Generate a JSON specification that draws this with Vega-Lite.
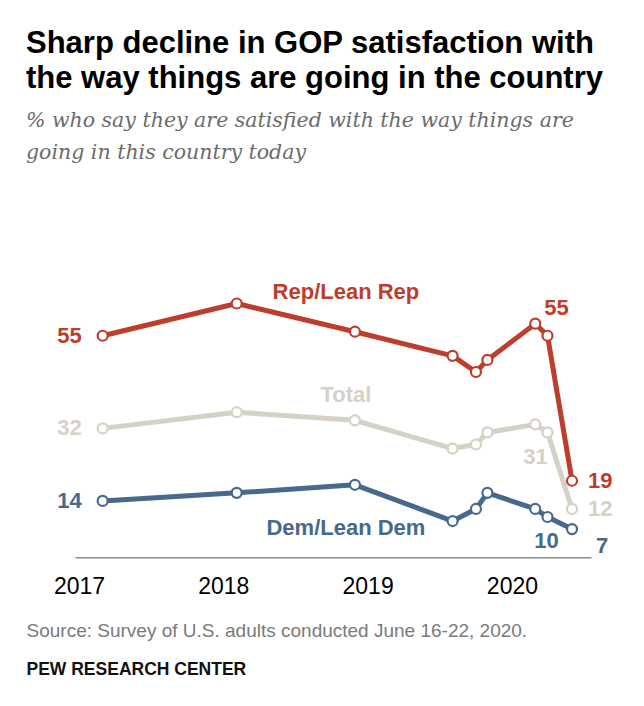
{
  "$schema": "https://vega.github.io/schema/vega-lite/v6.json",
  "width": 516,
  "height": 282,
  "autosize": {"type": "none"},
  "padding": {"left": 75, "top": 275.3, "right": 53, "bottom": 148.7},
  "background": "white",
  "config": {
    "view": {"stroke": null},
    "font": "Liberation Sans",
    "text": {"font": "Liberation Sans", "fontWeight": "bold", "fontSize": 22, "baseline": "middle"}
  },
  "title": {
    "text": ["Sharp decline in GOP satisfaction with", "the way things are going in the country"],
    "subtitle": ["% who say they are satisfied with the way things are", "going in this country today"],
    "anchor": "start",
    "frame": "group",
    "dx": -49,
    "offset": 111,
    "font": "Liberation Sans",
    "fontSize": 31,
    "fontWeight": "bold",
    "color": "#000000",
    "lineHeight": 35,
    "subtitleFont": "DejaVu Serif",
    "subtitleFontStyle": "italic",
    "subtitleFontSize": 20.5,
    "subtitleColor": "#6b6b6b",
    "subtitleLineHeight": 31.7,
    "subtitlePadding": 16
  },
  "data": {
    "values": [
      {"series": "Rep/Lean Rep", "date": "2017-03-02", "value": 55},
      {"series": "Rep/Lean Rep", "date": "2018-02-04", "value": 63},
      {"series": "Rep/Lean Rep", "date": "2018-11-30", "value": 56},
      {"series": "Rep/Lean Rep", "date": "2019-08-04", "value": 50},
      {"series": "Rep/Lean Rep", "date": "2019-10-02", "value": 46},
      {"series": "Rep/Lean Rep", "date": "2019-10-31", "value": 49},
      {"series": "Rep/Lean Rep", "date": "2020-02-29", "value": 58},
      {"series": "Rep/Lean Rep", "date": "2020-03-31", "value": 55},
      {"series": "Rep/Lean Rep", "date": "2020-06-01", "value": 19},
      {"series": "Total", "date": "2017-03-02", "value": 32},
      {"series": "Total", "date": "2018-02-04", "value": 36},
      {"series": "Total", "date": "2018-11-30", "value": 34},
      {"series": "Total", "date": "2019-08-04", "value": 27},
      {"series": "Total", "date": "2019-10-02", "value": 28},
      {"series": "Total", "date": "2019-10-31", "value": 31},
      {"series": "Total", "date": "2020-02-29", "value": 33},
      {"series": "Total", "date": "2020-03-31", "value": 31},
      {"series": "Total", "date": "2020-06-01", "value": 12},
      {"series": "Dem/Lean Dem", "date": "2017-03-02", "value": 14},
      {"series": "Dem/Lean Dem", "date": "2018-02-04", "value": 16},
      {"series": "Dem/Lean Dem", "date": "2018-11-30", "value": 18},
      {"series": "Dem/Lean Dem", "date": "2019-08-04", "value": 9},
      {"series": "Dem/Lean Dem", "date": "2019-10-02", "value": 12},
      {"series": "Dem/Lean Dem", "date": "2019-10-31", "value": 16},
      {"series": "Dem/Lean Dem", "date": "2020-02-29", "value": 12},
      {"series": "Dem/Lean Dem", "date": "2020-03-31", "value": 10},
      {"series": "Dem/Lean Dem", "date": "2020-06-01", "value": 7}
    ]
  },
  "encoding": {
    "x": {
      "field": "date",
      "type": "temporal",
      "scale": {
        "type": "utc",
        "domain": [{"year": 2016, "month": 12, "date": 22, "utc": true}, {"year": 2020, "month": 7, "date": 19, "utc": true}]
      },
      "axis": {
        "values": [
          {"year": 2017, "month": 1, "date": 1, "utc": true},
          {"year": 2018, "month": 1, "date": 1, "utc": true},
          {"year": 2019, "month": 1, "date": 1, "utc": true},
          {"year": 2020, "month": 1, "date": 1, "utc": true}
        ],
        "format": "%Y",
        "grid": false,
        "ticks": false,
        "domainColor": "#8c8c8c",
        "domainWidth": 1.5,
        "labelFont": "Liberation Sans",
        "labelFontSize": 23,
        "labelColor": "#000000",
        "labelBaseline": "alphabetic",
        "labelPadding": 36,
        "labelFlush": false,
        "labelOverlap": false,
        "title": "Source: Survey of U.S. adults conducted June 16-22, 2020.",
        "titleFont": "Liberation Sans",
        "titleFontSize": 19,
        "titleFontWeight": "normal",
        "titleColor": "#7a7a7a",
        "titleAlign": "left",
        "titleBaseline": "alphabetic",
        "titleX": -49,
        "titleY": 78.7
      }
    },
    "y": {
      "field": "value",
      "type": "quantitative",
      "scale": {"domain": [0, 70]},
      "axis": {
        "domain": false,
        "ticks": false,
        "labels": false,
        "grid": false,
        "title": "PEW RESEARCH CENTER",
        "titleFont": "Liberation Sans",
        "titleFontSize": 17.5,
        "titleFontWeight": "bold",
        "titleColor": "#111111",
        "titleAngle": 0,
        "titleAlign": "left",
        "titleBaseline": "alphabetic",
        "titleX": -49,
        "titleY": 398.7
      }
    },
    "color": {
      "field": "series",
      "type": "nominal",
      "scale": {"domain": ["Rep/Lean Rep", "Total", "Dem/Lean Dem"], "range": ["#bd3e2c", "#d6d1c5", "#46698c"]},
      "legend": null
    }
  },
  "layer": [
    {
      "mark": {"type": "line", "strokeWidth": 5, "strokeJoin": "round"}
    },
    {
      "mark": {"type": "point", "shape": "circle", "filled": true, "fill": "white", "size": 100, "strokeWidth": 2.2, "opacity": 1},
      "encoding": {
        "stroke": {
          "field": "series",
          "type": "nominal",
          "scale": {"domain": ["Rep/Lean Rep", "Total", "Dem/Lean Dem"], "range": ["#bd3e2c", "#d6d1c5", "#46698c"]},
          "legend": null
        }
      }
    },
    {
      "transform": [{"filter": "utcyear(datum.date) == 2017"}],
      "mark": {"type": "text", "align": "right", "dx": -21},
      "encoding": {"text": {"field": "value", "type": "quantitative"}}
    },
    {
      "transform": [{"filter": "datum.series == 'Rep/Lean Rep' && utcyear(datum.date) == 2020 && utcmonth(datum.date) == 2"}],
      "mark": {"type": "text", "align": "center", "dx": 9, "dy": -28},
      "encoding": {"text": {"field": "value", "type": "quantitative"}}
    },
    {
      "transform": [{"filter": "datum.series == 'Total' && utcyear(datum.date) == 2020 && utcmonth(datum.date) == 2"}],
      "mark": {"type": "text", "align": "center", "dx": -12, "dy": 25},
      "encoding": {"text": {"field": "value", "type": "quantitative"}}
    },
    {
      "transform": [{"filter": "datum.series == 'Dem/Lean Dem' && utcyear(datum.date) == 2020 && utcmonth(datum.date) == 2"}],
      "mark": {"type": "text", "align": "center", "dx": -1, "dy": 24},
      "encoding": {"text": {"field": "value", "type": "quantitative"}}
    },
    {
      "transform": [{"filter": "datum.series != 'Dem/Lean Dem' && utcyear(datum.date) == 2020 && utcmonth(datum.date) == 5"}],
      "mark": {"type": "text", "align": "left", "dx": 16},
      "encoding": {"text": {"field": "value", "type": "quantitative"}}
    },
    {
      "transform": [{"filter": "datum.series == 'Dem/Lean Dem' && utcyear(datum.date) == 2020 && utcmonth(datum.date) == 5"}],
      "mark": {"type": "text", "align": "left", "dx": 24, "dy": 17},
      "encoding": {"text": {"field": "value", "type": "quantitative"}}
    },
    {
      "transform": [{"filter": "datum.series == 'Rep/Lean Rep' && utcyear(datum.date) == 2018 && utcmonth(datum.date) == 10"}],
      "mark": {"type": "text", "align": "center", "dx": -9, "dy": -40},
      "encoding": {"text": {"field": "series", "type": "nominal"}}
    },
    {
      "transform": [{"filter": "datum.series == 'Total' && utcyear(datum.date) == 2018 && utcmonth(datum.date) == 10"}],
      "mark": {"type": "text", "align": "center", "dx": -9, "dy": -25},
      "encoding": {"text": {"field": "series", "type": "nominal"}}
    },
    {
      "transform": [{"filter": "datum.series == 'Dem/Lean Dem' && utcyear(datum.date) == 2018 && utcmonth(datum.date) == 10"}],
      "mark": {"type": "text", "align": "center", "dx": -9, "dy": 43},
      "encoding": {"text": {"field": "series", "type": "nominal"}}
    }
  ]
}
